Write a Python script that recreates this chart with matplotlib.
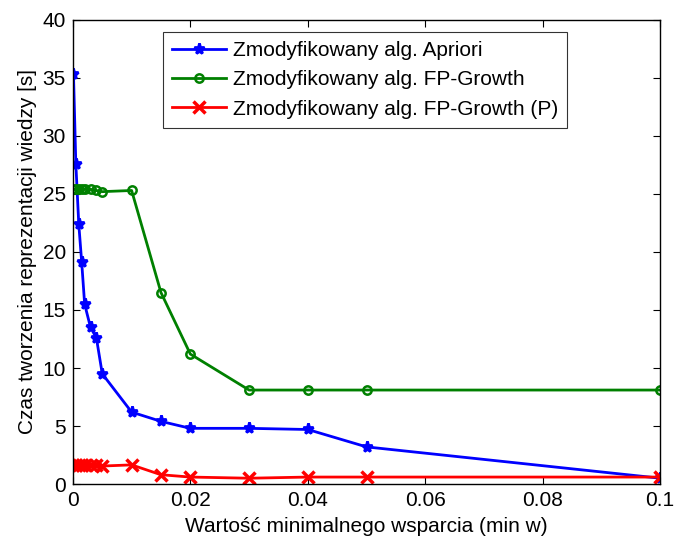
import numpy as np
import matplotlib
matplotlib.use("Agg")
import matplotlib.pyplot as plt

plt.rcParams['font.family'] = ['Liberation Sans', 'DejaVu Sans']

# minimal support values and processing times [s]
min_support = [0.0001, 0.0005, 0.001, 0.0015, 0.002, 0.003, 0.004, 0.005,
               0.01, 0.015, 0.02, 0.03, 0.04, 0.05, 0.1]
t_apriori = [35.3, 27.6, 22.4, 19.1, 15.5, 13.5, 12.6, 9.5,
             6.2, 5.4, 4.8, 4.8, 4.7, 3.2, 0.5]
t_fpgrowth = [25.4, 25.4, 25.4, 25.4, 25.4, 25.4, 25.3, 25.2,
              25.3, 16.5, 11.2, 8.1, 8.1, 8.1, 8.1]
t_fpgrowth_p = [1.6, 1.6, 1.6, 1.6, 1.6, 1.6, 1.6, 1.55,
                1.65, 0.8, 0.6, 0.5, 0.6, 0.6, 0.6]

labels = ['Zmodyfikowany alg. Apriori',
          'Zmodyfikowany alg. FP-Growth',
          'Zmodyfikowany alg. FP-Growth (P)']

FS = 15

fig = plt.figure(figsize=(6.75, 5.39), dpi=100)
ax = fig.add_axes([0.108, 0.102, 0.870, 0.861])

ax.plot(min_support, t_apriori, color='blue', lw=2, marker='*',
        ms=8, mew=2, label=labels[0])
ax.plot(min_support, t_fpgrowth, color='green', lw=2, marker='o',
        ms=6, mfc='none', mew=1.8, label=labels[1])
ax.plot(min_support, t_fpgrowth_p, color='red', lw=2, marker='x',
        ms=9, mew=2.5, label=labels[2])

ax.set_xlim(0, 0.1)
ax.set_ylim(0, 40)
ax.set_xticks([0, 0.02, 0.04, 0.06, 0.08, 0.1])
ax.set_xticklabels(['0', '0.02', '0.04', '0.06', '0.08', '0.1'])
ax.set_yticks(np.arange(0, 41, 5))
ax.tick_params(direction='in', top=True, right=True, labelsize=FS,
               length=5, width=0.8, pad=5)
for s in ax.spines.values():
    s.set_linewidth(1.0)

ax.set_xlabel('Wartość minimalnego wsparcia (min w)', fontsize=FS, labelpad=5)
ax.set_ylabel('Czas tworzenia reprezentacji wiedzy [s]', fontsize=FS, labelpad=4)

leg = ax.legend(loc='upper left', bbox_to_anchor=(0.153, 0.975), fontsize=FS,
                frameon=True, fancybox=False, edgecolor='black',
                handlelength=2.6, borderpad=0.45, labelspacing=0.5,
                handletextpad=0.3, borderaxespad=0)
leg.get_frame().set_linewidth(0.8)

fig.savefig('out.png', dpi=100)
